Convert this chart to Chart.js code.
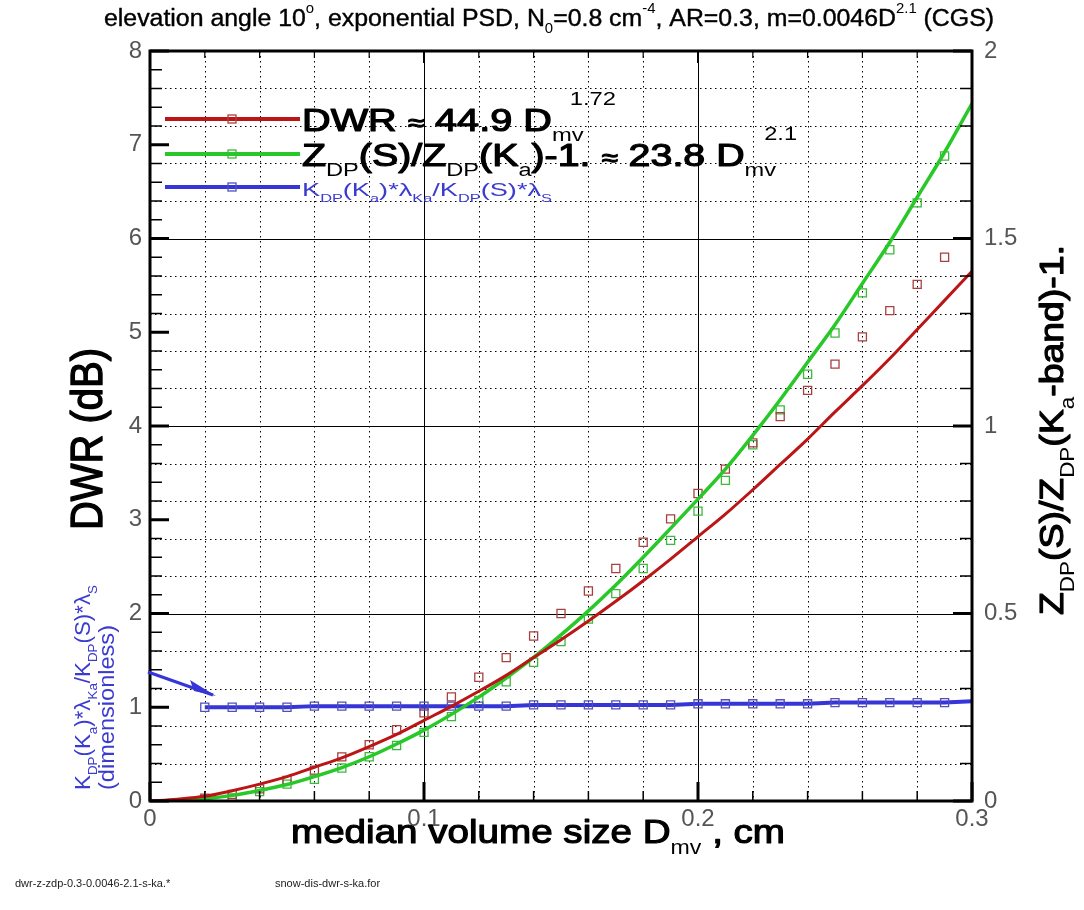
<!DOCTYPE html>
<html>
<head>
<meta charset="utf-8">
<title>DWR and ZDP ratio vs median volume size</title>
<script src="https://cdn.jsdelivr.net/npm/chart.js@4.4.0/dist/chart.umd.min.js"></script>
<style>
    html, body { margin: 0; padding: 0; background: #fff; }
    #chart { display: block; }
</style>
</head>
<body>
<canvas id="chart" width="1084" height="910"></canvas>
<script>
// Dados
const sizes = [0, 0.01, 0.02, 0.03, 0.04, 0.05, 0.06, 0.07, 0.08, 0.09, 0.10, 0.11, 0.12, 0.13, 0.14, 0.15,
    0.16, 0.17, 0.18, 0.19, 0.20, 0.21, 0.22, 0.23, 0.24, 0.25, 0.26, 0.27, 0.28, 0.29, 0.30];
const dwrFit = [0, 0.02, 0.05, 0.11, 0.18, 0.26, 0.36, 0.46, 0.58, 0.71, 0.86, 1.01, 1.17, 1.34, 1.53, 1.72,
    1.92, 2.13, 2.35, 2.58, 2.82, 3.06, 3.32, 3.59, 3.86, 4.15, 4.43, 4.72, 5.03, 5.34, 5.65];
const zdpFit = [0, 0.002, 0.006, 0.015, 0.028, 0.044, 0.065, 0.089, 0.118, 0.152, 0.189, 0.231, 0.277, 0.328, 0.383, 0.443,
    0.507, 0.576, 0.650, 0.727, 0.805, 0.885, 0.975, 1.07, 1.17, 1.27, 1.38, 1.49, 1.61, 1.73, 1.86];

const markerSizes = [0.02, 0.03, 0.04, 0.05, 0.06, 0.07, 0.08, 0.09, 0.10, 0.11, 0.12, 0.13, 0.14, 0.15,
    0.16, 0.17, 0.18, 0.19, 0.20, 0.21, 0.22, 0.23, 0.24, 0.25, 0.26, 0.27, 0.28, 0.29];
const dwrPoints = [0.03, 0.07, 0.13, 0.22, 0.33, 0.47, 0.60, 0.76, 0.94, 1.11, 1.32, 1.53, 1.76, 2.00,
    2.24, 2.48, 2.76, 3.01, 3.28, 3.54, 3.82, 4.10, 4.38, 4.66, 4.95, 5.23, 5.51, 5.80];
const zdpPoints = [0.004, 0.008, 0.025, 0.045, 0.058, 0.088, 0.118, 0.148, 0.183, 0.225, 0.268, 0.318, 0.370, 0.425,
    0.485, 0.553, 0.620, 0.695, 0.773, 0.855, 0.950, 1.043, 1.138, 1.248, 1.355, 1.470, 1.595, 1.720];

const kdpSizes = [0.02, 0.03, 0.04, 0.05, 0.06, 0.07, 0.08, 0.09, 0.10, 0.11, 0.12, 0.13, 0.14, 0.15,
    0.16, 0.17, 0.18, 0.19, 0.20, 0.21, 0.22, 0.23, 0.24, 0.25, 0.26, 0.27, 0.28, 0.29, 0.30];
const kdpRatio = [1.00, 1.00, 1.00, 1.00, 1.012, 1.012, 1.012, 1.012, 1.012, 1.012, 1.012, 1.012, 1.025, 1.025,
    1.025, 1.025, 1.025, 1.025, 1.037, 1.037, 1.037, 1.037, 1.037, 1.05, 1.05, 1.05, 1.05, 1.05, 1.065];

const xTickLabels = ['0', '0.1', '0.2', '0.3'];
const leftTicks = [0, 1, 2, 3, 4, 5, 6, 7, 8];
const rightTicks = [0, 0.5, 1, 1.5, 2];

// Cores
const RED = '#bb1515';
const RED_MK = '#a84040';
const GREEN = '#27c827';
const GREEN_MK = '#3cb83c';
const BLUE = '#3535d8';
const BLUE_MK = '#5050b8';
const BLUE_TXT = '#3b3bd0';
const FAMILY = '"Liberation Sans", Arial, sans-serif';

const pts = (xs, ys) => xs.map((x, i) => ({ x: x, y: ys[i] }));

// texto com indices e expoentes
function partFont(p, size) {
    const s = p.s ? size * 0.6 : size * (p.k || 1);
    return s + 'px ' + FAMILY;
}
function richWidth(ctx, parts, size) {
    let w = 0;
    parts.forEach(p => {
        ctx.font = partFont(p, size);
        w += ctx.measureText(p.t).width + (p.dx || 0) * size;
    });
    return w;
}
function drawRich(ctx, parts, x, y, o) {
    const size = o.size;
    const supUp = o.supUp || 0.55;
    ctx.save();
    ctx.translate(x, y);
    if (o.rotate) ctx.rotate(o.rotate);
    const natural = richWidth(ctx, parts, size);
    const sx = o.width ? o.width / natural : 1;
    ctx.scale(sx, 1);
    let cx = o.align === 'center' ? -natural / 2 : 0;
    ctx.fillStyle = o.color || '#000';
    ctx.strokeStyle = o.color || '#000';
    ctx.lineJoin = 'round';
    ctx.textAlign = 'left';
    ctx.textBaseline = 'alphabetic';
    parts.forEach(p => {
        ctx.font = partFont(p, size);
        cx += (p.dx || 0) * size;
        let dy = 0;
        if (p.s === 'sub') dy = size * 0.32;
        if (p.s === 'sup') dy = -size * supUp;
        ctx.fillText(p.t, cx, dy);
        // meio-negrito
        if (o.stroke && !p.s) {
            ctx.lineWidth = o.stroke;
            ctx.strokeText(p.t, cx, dy);
        }
        cx += ctx.measureText(p.t).width;
    });
    ctx.restore();
}

function markerSquare(ctx, x, y, color) {
    ctx.save();
    ctx.strokeStyle = color;
    ctx.lineWidth = 1.3;
    ctx.strokeRect(x - 4, y - 4, 8, 8);
    ctx.restore();
}

const plotFrame = {
    id: 'plotFrame',
    beforeDatasetsDraw(chart) {
        const ctx = chart.ctx, a = chart.chartArea;
        const xs = chart.scales.x, y2 = chart.scales.y2;
        ctx.save();
        ctx.strokeStyle = '#000';
        ctx.lineWidth = 1;
        // grade vertical
        for (let i = 1; i < 15; i++) {
            const px = Math.round(xs.getPixelForValue(i * 0.02)) + 0.5;
            ctx.setLineDash(i % 5 === 0 ? [] : [1.5, 3.5]);
            ctx.beginPath(); ctx.moveTo(px, a.top); ctx.lineTo(px, a.bottom); ctx.stroke();
        }
        // grade horizontal (eixo direito)
        for (let i = 1; i < 20; i++) {
            const py = Math.round(y2.getPixelForValue(i * 0.1)) + 0.5;
            ctx.setLineDash(i % 5 === 0 ? [] : [1.5, 3.5]);
            ctx.beginPath(); ctx.moveTo(a.left, py); ctx.lineTo(a.right, py); ctx.stroke();
        }
        ctx.restore();
    },
    afterDatasetsDraw(chart) {
        const ctx = chart.ctx, a = chart.chartArea;
        const xs = chart.scales.x, y = chart.scales.y, y2 = chart.scales.y2;
        ctx.save();
        ctx.strokeStyle = '#000';
        const tick = (x1, y1, x2, y2b, w) => {
            ctx.lineWidth = w;
            ctx.beginPath(); ctx.moveTo(x1, y1); ctx.lineTo(x2, y2b); ctx.stroke();
        };
        for (let i = 0; i <= 40; i++) {
            const py = y.getPixelForValue(i * 0.2), major = i % 5 === 0;
            tick(a.left, py, a.left + (major ? 19 : 12), py, major ? 3 : 1.5);
        }
        for (let i = 0; i <= 20; i++) {
            const py = y2.getPixelForValue(i * 0.1), major = i % 5 === 0;
            tick(a.right, py, a.right - (major ? 19 : 12), py, major ? 3 : 1.5);
        }
        for (let i = 0; i <= 15; i++) {
            const px = xs.getPixelForValue(i * 0.02), major = i % 5 === 0;
            tick(px, a.bottom, px, a.bottom - (major ? 19 : 10), major ? 3 : 1.5);
            tick(px, a.top, px, a.top + (major ? 12 : 7), major ? 2 : 1.2);
        }
        ctx.lineWidth = 3;
        ctx.strokeRect(a.left, a.top, a.right - a.left, a.bottom - a.top);
        ctx.restore();
    },
    afterDraw(chart) {
        const ctx = chart.ctx;
        // titulo
        drawRich(ctx, [
            { t: 'elevation angle 10' }, { t: 'o', s: 'sup' }, { t: ', exponential PSD, N' }, { t: '0', s: 'sub' },
            { t: '=0.8 cm' }, { t: '-4', s: 'sup' }, { t: ', AR=0.3, m=0.0046D' }, { t: '2.1', s: 'sup' }, { t: ' (CGS)' }
        ], 104, 26, { size: 23, width: 890, stroke: 0.4 });

        // legenda
        const legend = [
            { y: 119, line: RED, mk: RED_MK },
            { y: 154, line: GREEN, mk: GREEN_MK },
            { y: 187, line: BLUE, mk: BLUE_MK }
        ];
        legend.forEach(l => {
            ctx.save();
            ctx.strokeStyle = l.line;
            ctx.lineWidth = 4;
            ctx.beginPath(); ctx.moveTo(165, l.y); ctx.lineTo(300, l.y); ctx.stroke();
            ctx.restore();
            markerSquare(ctx, 232, l.y, l.mk);
        });
        drawRich(ctx, [
            { t: 'DWR ' }, { t: '\u2248', k: 0.75 }, { t: ' 44.9 D' }, { t: 'mv', s: 'sub' }, { t: '1.72', s: 'sup', dx: -0.35 }
        ], 302, 131, { size: 32, width: 314, stroke: 1.2, supUp: 0.82 });
        drawRich(ctx, [
            { t: 'Z' }, { t: 'DP', s: 'sub' }, { t: '(S)/Z' }, { t: 'DP', s: 'sub' }, { t: '(K' }, { t: 'a', s: 'sub' },
            { t: ')-1. ' }, { t: '\u2248', k: 0.75 }, { t: ' 23.8 D' }, { t: 'mv', s: 'sub' }, { t: '2.1', s: 'sup', dx: -0.3 }
        ], 302, 166, { size: 32, width: 495, stroke: 1.2, supUp: 0.82 });
        drawRich(ctx, [
            { t: 'K' }, { t: 'DP', s: 'sub' }, { t: '(K' }, { t: 'a', s: 'sub' }, { t: ')*\u03bb' }, { t: 'Ka', s: 'sub' },
            { t: '/K' }, { t: 'DP', s: 'sub' }, { t: '(S)*\u03bb' }, { t: 'S', s: 'sub' }
        ], 302, 196, { size: 19, width: 250, color: BLUE_TXT });

        // titulos dos eixos
        drawRich(ctx, [{ t: 'DWR (dB)' }], 102, 439, { size: 44, width: 182, align: 'center', rotate: -Math.PI / 2, stroke: 1.4 });
        drawRich(ctx, [
            { t: 'Z' }, { t: 'DP', s: 'sub' }, { t: '(S)/Z' }, { t: 'DP', s: 'sub' }, { t: '(K' }, { t: 'a', s: 'sub' }, { t: '-band)-1.' }
        ], 1063, 430, { size: 34, width: 370, align: 'center', rotate: -Math.PI / 2, stroke: 1.2 });
        drawRich(ctx, [
            { t: 'median volume size D' }, { t: 'mv', s: 'sub' }, { t: ' , cm' }
        ], 291, 843, { size: 34, width: 494, stroke: 1.2 });

        // rotulo azul na esquerda
        drawRich(ctx, [
            { t: 'K' }, { t: 'DP', s: 'sub' }, { t: '(K' }, { t: 'a', s: 'sub' }, { t: ')*\u03bb' }, { t: 'Ka', s: 'sub' },
            { t: '/K' }, { t: 'DP', s: 'sub' }, { t: '(S)*\u03bb' }, { t: 'S', s: 'sub' }
        ], 90, 790, { size: 22, width: 205, color: BLUE_TXT, rotate: -Math.PI / 2 });
        drawRich(ctx, [{ t: '(dimensionless)' }], 114, 790, { size: 22, width: 165, color: BLUE_TXT, rotate: -Math.PI / 2 });

        // seta
        ctx.save();
        ctx.strokeStyle = BLUE;
        ctx.fillStyle = BLUE;
        ctx.lineWidth = 3;
        ctx.beginPath(); ctx.moveTo(148, 672); ctx.lineTo(213, 695); ctx.stroke();
        ctx.beginPath(); ctx.moveTo(216, 696); ctx.lineTo(190, 680); ctx.lineTo(194, 691); ctx.closePath(); ctx.fill();
        ctx.restore();

        // arquivos
        ctx.save();
        ctx.fillStyle = '#222';
        ctx.font = '11px ' + FAMILY;
        ctx.fillText('dwr-z-zdp-0.3-0.0046-2.1-s-ka.*', 15, 887);
        ctx.fillText('snow-dis-dwr-s-ka.for', 275, 887);
        ctx.restore();
    }
};

const tickFont = { family: FAMILY, size: 24, weight: '300' };

const chart = document.getElementById('chart').getContext('2d');

new Chart(chart, {
    type: 'scatter',
    data: {
        datasets: [
            {
                label: 'DWR fit',
                data: pts(sizes, dwrFit),
                showLine: true,
                borderColor: RED,
                borderWidth: 3,
                pointRadius: 0,
                cubicInterpolationMode: 'monotone',
                yAxisID: 'y'
            },
            {
                label: 'ZDP fit',
                data: pts(sizes, zdpFit),
                showLine: true,
                borderColor: GREEN,
                borderWidth: 3.5,
                pointRadius: 0,
                cubicInterpolationMode: 'monotone',
                yAxisID: 'y2'
            },
            {
                label: 'KDP ratio',
                data: pts(kdpSizes, kdpRatio),
                showLine: true,
                borderColor: BLUE,
                borderWidth: 4,
                pointStyle: 'rect',
                pointRadius: (c) => c.dataIndex === kdpRatio.length - 1 ? 0 : 5.7,
                pointBorderColor: BLUE_MK,
                pointBackgroundColor: 'rgba(0,0,0,0)',
                pointBorderWidth: 1.3,
                yAxisID: 'y'
            },
            {
                label: 'DWR',
                data: pts(markerSizes, dwrPoints),
                showLine: false,
                pointStyle: 'rect',
                pointRadius: 5.7,
                pointBorderColor: RED_MK,
                pointBackgroundColor: 'rgba(0,0,0,0)',
                pointBorderWidth: 1.3,
                yAxisID: 'y'
            },
            {
                label: 'ZDP',
                data: pts(markerSizes, zdpPoints),
                showLine: false,
                pointStyle: 'rect',
                pointRadius: 5.7,
                pointBorderColor: GREEN_MK,
                pointBackgroundColor: 'rgba(0,0,0,0)',
                pointBorderWidth: 1.3,
                yAxisID: 'y2'
            }
        ]
    },
    options: {
        responsive: false,
        animation: false,
        devicePixelRatio: 1,
        layout: { padding: { top: 51, left: 0, right: 0, bottom: 0 } },
        plugins: {
            legend: { display: false },
            tooltip: { enabled: false },
            title: { display: false }
        },
        scales: {
            x: {
                type: 'linear',
                min: 0,
                max: 0.3,
                afterBuildTicks: (s) => { s.ticks = xTickLabels.map(t => ({ value: Number(t) })); },
                afterFit: (s) => { s.height = 109; },
                ticks: {
                    font: tickFont,
                    color: '#555',
                    padding: 4,
                    maxRotation: 0,
                    callback: (v, i) => xTickLabels[i]
                },
                grid: { display: false, drawTicks: false },
                border: { display: false }
            },
            y: {
                position: 'left',
                min: 0,
                max: 8,
                afterBuildTicks: (s) => { s.ticks = leftTicks.map(v => ({ value: v })); },
                afterFit: (s) => { s.width = 150; },
                ticks: { font: tickFont, color: '#555', padding: 8, callback: (v) => String(v) },
                grid: { display: false, drawTicks: false },
                border: { display: false }
            },
            y2: {
                position: 'right',
                min: 0,
                max: 2,
                afterBuildTicks: (s) => { s.ticks = rightTicks.map(v => ({ value: v })); },
                afterFit: (s) => { s.width = 112; },
                ticks: { font: tickFont, color: '#555', padding: 12, callback: (v) => String(v) },
                grid: { display: false, drawTicks: false },
                border: { display: false }
            }
        }
    },
    plugins: [plotFrame]
});
</script>
</body>
</html>
